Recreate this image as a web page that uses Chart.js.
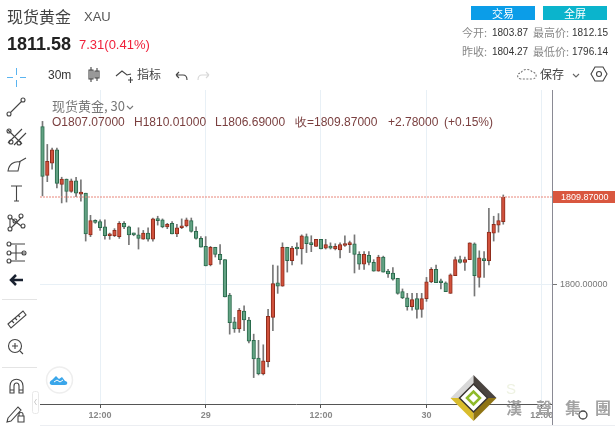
<!DOCTYPE html>
<html>
<head>
<meta charset="utf-8">
<script src="https://cdn.jsdelivr.net/npm/chart.js@4"></script>
<style>
html,body{margin:0;padding:0;background:#fff;overflow:hidden}
body{width:615px;height:426px;position:relative;font-family:"Noto Sans CJK SC","Liberation Sans",sans-serif;color:#444}
#c{position:absolute;left:0;top:0}
.t{position:absolute;white-space:nowrap;line-height:1}
.num{font-family:"Liberation Sans",sans-serif}
.btn{position:absolute;top:6px;width:64px;height:14px;line-height:14px;text-align:center;color:#fff;font-size:11px}
.ohlc{font-family:"Liberation Sans",sans-serif;font-size:12px;color:#7a3f3f;top:116px}
.stat{font-size:11px;color:#888}
.statn{font-family:"Liberation Sans",sans-serif;font-size:10px;color:#333}
.wm{top:399px;font-size:16px;font-weight:bold;color:#a2a2a2;font-family:"Noto Sans CJK TC"}
svg{position:absolute;overflow:visible}
.ic{fill:none;stroke:#444;stroke-width:1.1}
</style>
</head>
<body>
<canvas id="c" width="615" height="426"></canvas>

<div class="t" style="left:7px;top:8px;font-size:16px;color:#444">现货黄金</div>
<div class="t num" style="left:84px;top:10px;font-size:13px;color:#555">XAU</div>
<div class="t num" style="left:7px;top:35px;font-size:18px;font-weight:bold;color:#222">1811.58</div>
<div class="t num" style="left:79px;top:38px;font-size:13px;color:#f0203a">7.31(0.41%)</div>

<div class="btn" style="left:471px;background:#0b9de8">交易</div>
<div class="btn" style="left:543px;background:#0bb4cc">全屏</div>
<div class="t stat" style="left:462px;top:27px">今开:</div>
<div class="t statn" style="left:492px;top:28px">1803.87</div>
<div class="t stat" style="left:533px;top:27px">最高价:</div>
<div class="t statn" style="left:572px;top:28px">1812.15</div>
<div class="t stat" style="left:462px;top:46px">昨收:</div>
<div class="t statn" style="left:492px;top:47px">1804.27</div>
<div class="t stat" style="left:533px;top:46px">最低价:</div>
<div class="t statn" style="left:572px;top:47px">1796.14</div>

<div class="t num" style="left:48px;top:69px;font-size:12px;color:#333">30m</div>
<div class="t" style="left:137px;top:68px;font-size:12px;color:#444">指标</div>
<div class="t" style="left:540px;top:68px;font-size:12px;color:#444">保存</div>

<div class="t" style="left:52px;top:99px;font-size:13px;color:#777">现货黄金, 30</div>
<div class="t ohlc" style="left:52px">O1807.07000</div>
<div class="t ohlc" style="left:134px">H1810.01000</div>
<div class="t ohlc" style="left:215px">L1806.69000</div>
<div class="t ohlc" style="left:295px">收=1809.87000</div>
<div class="t ohlc" style="left:388px">+2.78000</div>
<div class="t ohlc" style="left:444px">(+0.15%)</div>

<svg width="615" height="426" style="left:0;top:0">
  <!-- toolbar -->
  <g class="ic">
    <path d="M91 67v15M89 70h4v9h-4zM97 68v13M95 71h4v7h-4z"/>
    <path d="M116 76l6-5 5 4 4-1M128 80h5M130.500 77v6"/>
    <path d="M176 75h7c3 0 4 2 4 5M176 75l3-3M176 75l3 3"/>
    <path d="M209 75h-7c-3 0-4 2-4 5M209 75l-3-3M209 75l-3 3" style="stroke:#d8d8d8"/>
    <path d="M127 106l3 3 3-3" style="stroke:#777"/>
    <path d="M521 79c-4 0-5-6 0-6 1-4 9-5 11-1 5 0 6 7 0 7z" stroke-dasharray="2 1.500" style="stroke:#777"/>
    <path d="M573 74l3 3 3-3" style="stroke:#666"/>
    <path d="M595 67h8l4 7-4 7h-8l-4-7z"/><circle cx="599" cy="74" r="2.500"/>
  </g>
  <!-- left tools -->
  <path d="M16.500 68v7M16.500 80v7M7 77.500h6M20 77.500h6" style="stroke:#5ab4f0;fill:none"/>
  <g class="ic">
    <circle cx="9" cy="114" r="2"/><circle cx="23" cy="100" r="2"/><path d="M10.500 112.500l11-11"/>
    <path d="M8 143l14-14M14 145l12-12M8 130l14 14"/><circle cx="9" cy="131" r="2"/><circle cx="11" cy="142" r="2"/><circle cx="19" cy="143" r="2"/>
    <path d="M8 171c1-7 6-10 12-9l-2 9zM19 162l7-4"/>
    <path d="M11 186h11M16.500 186v15M14 201h5"/>
    <circle cx="10" cy="217" r="2"/><circle cx="21" cy="216" r="2"/><circle cx="15" cy="221" r="2"/><circle cx="10" cy="229" r="2"/><circle cx="23" cy="226" r="2"/>
    <path d="M10 219v8M11 218l10 8M21 218l-10 10"/>
    <path d="M10 244h15M10 253h15M10 261h15M16 245v15"/><circle cx="9" cy="244" r="2"/><circle cx="9" cy="253" r="2"/><circle cx="9" cy="261" r="2"/><circle cx="24" cy="253" r="2"/>
    <path d="M8 324l15-13 3 4-15 13zM12 321l2 2M15 318l2 2M18 315l2 2"/>
    <circle cx="15" cy="346" r="6.500"/><path d="M12 346h6M15 343v6M20 351l3 3"/>
    <path d="M10 393v-7c0-9 13-9 13 0v7h-4v-7c0-4-5-4-5 0v7zM10 390h4M19 390h4"/>
    <path d="M8 418l10-11 3 3-10 11-4 1zM18 416h6v6h-6zM19 416v-2c0-2 4-2 4 0v2"/>
  </g>
  <path d="M23 280H12M16 275l-5 5 5 5" style="fill:none;stroke:#1a2230;stroke-width:2.500"/>
  <path d="M2 299.500h35M2 367.500h35" style="stroke:#e4e4e4"/>
  <rect x="32.500" y="391.500" width="6" height="22" rx="2" style="fill:#fff;stroke:#e8e8e8"/>
  <path d="M36.500 399l-2 3 2 3" style="fill:none;stroke:#ccc"/>
  <!-- cloud badge -->
  <circle cx="59.500" cy="380" r="13" style="fill:#fff;stroke:#eee;stroke-width:1.500"/>
  <path d="M52 385c-3 0-3-4 0-5l4-4 3 3 3-2 3 4c3 0 3 4 0 4z" style="fill:#3aa6ea"/>
  <path d="M54 382l3-2 3 2 3-2" style="fill:none;stroke:#fff"/>
  <!-- axis runs on below the plot -->
  <path d="M552.500 404v22" style="stroke:#8a8a94"/>
  <path d="M40 425.500h575" style="stroke:#eceef2"/>
  <!-- watermark -->
  <path d="M473.500 375l-23 23h23z" style="fill:#d8d8d8"/>
  <path d="M473.500 375l23 23h-23z" style="fill:#4a4440"/>
  <path d="M450.500 398l23 23v-23z" style="fill:#d9bc2c"/>
  <path d="M496.500 398l-23 23v-23z" style="fill:#8f7414"/>
  <path d="M473.500 384l14 14-14 14-14-14z" style="fill:#fff;stroke:#3a3532;stroke-width:1.500"/>
  <path d="M467 398l6.500-6.500 6.500 6.500-6.500 6.500z" style="fill:none;stroke:#8fba2a;stroke-width:2.500"/>
  <circle cx="583" cy="415" r="4" style="fill:#fff;stroke:#444;stroke-width:1.300"/>
</svg>
<div class="t num" style="left:506px;top:381px;font-size:15px;color:#eef2e2">S</div>
<div class="t wm" style="left:506px">漢</div>
<div class="t wm" style="left:536px">聲</div>
<div class="t wm" style="left:565px">集</div>
<div class="t wm" style="left:595px">團</div>

<script>
const opens = [1817.8,1812.3,1813.7,1815.2,1811.3,1811.9,1810.5,1811.7,1810.2,1810.3,1805.6,1807.2,1807.1,1806.5,1805.5,1805.5,1805.4,1806.9,1806.5,1805.7,
  1805.6,1805.1,1805.8,1805.1,1807.3,1807.3,1806.5,1806.9,1805.7,1806.4,1806.6,1807.2,1806.0,1805.2,1804.3,1802.2,1804.2,1803.4,1802.8,1798.8,
  1795.8,1795.0,1797.0,1796.0,1793.7,1791.7,1789.9,1791.3,1796.3,1800.2,1799.8,1804.2,1802.7,1804.1,1804.0,1805.4,1804.7,1804.3,1805.1,1804.1,
  1804.3,1804.0,1803.9,1804.4,1804.5,1804.6,1803.4,1802.3,1803.3,1802.5,1801.5,1803.1,1801.5,1801.3,1800.7,1799.2,1798.5,1797.5,1798.4,1797.2,
  1798.4,1800.3,1801.7,1800.3,1800.2,1799.0,1801.0,1802.8,1802.5,1802.8,1804.6,1800.8,1802.9,1802.7,1805.8,1806.7,1807.1];
const highs = [1818.4,1815.8,1815.4,1815.4,1812.1,1811.9,1811.9,1812.1,1811.8,1810.3,1807.8,1807.3,1807.3,1807.3,1805.8,1806.3,1807.1,1807.1,1806.6,1805.8,
  1806.4,1806.1,1806.4,1807.5,1807.7,1807.4,1806.9,1807.1,1806.8,1807.4,1807.5,1807.5,1806.5,1805.4,1805.4,1804.3,1804.2,1804.5,1802.8,1799.0,
  1796.3,1797.3,1797.6,1796.3,1794.4,1793.7,1793.2,1797.2,1802.2,1802.1,1804.7,1804.2,1804.3,1804.7,1805.6,1805.7,1805.5,1805.1,1805.1,1805.1,
  1804.7,1804.6,1804.7,1805.5,1804.9,1805.6,1803.7,1803.7,1803.7,1802.8,1803.3,1803.2,1801.7,1801.9,1800.7,1799.5,1799.0,1799.0,1799.0,1799.0,
  1800.8,1801.9,1802.2,1800.6,1800.3,1801.2,1803.1,1803.2,1803.1,1804.7,1804.7,1803.8,1803.7,1808.6,1807.7,1808.0,1810.1];
const lows = [1810.0,1811.6,1813.0,1810.9,1809.2,1809.3,1810.4,1809.9,1809.4,1804.9,1805.4,1806.9,1806.1,1805.1,1805.1,1805.4,1805.2,1806.3,1804.5,1805.5,
  1804.0,1805.1,1804.9,1804.9,1806.7,1806.4,1806.3,1805.7,1805.4,1806.3,1806.5,1805.9,1805.1,1804.2,1802.1,1802.1,1803.1,1802.3,1798.6,1794.4,
  1794.6,1794.6,1794.8,1793.4,1789.5,1789.8,1789.8,1790.7,1794.8,1799.0,1799.8,1801.4,1802.2,1803.3,1802.3,1803.6,1803.7,1804.3,1804.0,1804.0,
  1804.0,1803.9,1803.0,1804.3,1803.6,1801.3,1801.7,1801.7,1802.2,1801.5,1801.5,1801.4,1800.8,1800.5,1798.9,1798.4,1797.1,1797.1,1796.2,1796.3,
  1798.1,1800.2,1800.2,1799.5,1799.2,1799.0,1801.0,1802.4,1801.6,1802.8,1798.7,1799.7,1800.8,1802.2,1804.9,1805.9,1806.8];
const closes = [1812.2,1813.9,1815.2,1811.4,1811.9,1810.5,1811.7,1810.3,1810.3,1805.7,1807.2,1807.0,1806.4,1805.5,1805.6,1806.1,1806.9,1806.5,1805.6,1805.6,
  1805.2,1805.8,1805.1,1807.4,1807.2,1806.5,1806.8,1805.7,1806.4,1806.6,1807.3,1806.0,1805.2,1804.2,1802.1,1804.2,1803.4,1802.8,1798.6,1795.7,
  1795.0,1797.1,1796.0,1793.6,1791.6,1789.9,1791.4,1796.4,1800.1,1799.8,1804.2,1802.7,1804.1,1804.0,1805.5,1804.6,1804.5,1805.1,1804.0,1804.5,
  1804.1,1804.3,1804.5,1804.5,1804.6,1803.4,1802.3,1803.4,1802.5,1801.5,1803.1,1801.4,1801.2,1800.6,1799.0,1798.5,1797.5,1798.3,1797.2,1798.4,
  1800.3,1801.7,1800.2,1800.2,1799.2,1801.1,1802.8,1802.5,1802.8,1804.7,1801.0,1803.0,1802.7,1805.9,1806.8,1807.2,1809.87];
const lastClose = 1809.87;
const priceTicks = [1800];
const timeTicks = [12, 34, 58, 80, 104];
const timeLabels = ['12:00', '29', '12:00', '30', '12:00'];

const UP = '#d0513c', UP_EDGE = '#8e2c1c', DOWN = '#62a283', DOWN_EDGE = '#2a6a4c';
const isUp = opens.map((o, i) => closes[i] >= o);
const xMin = -0.52, xMax = 106.15;

// last price tag on the right axis
const priceTag = {
  id: 'priceTag',
  afterDraw(chart) {
    const ctx = chart.ctx, y = chart.scales.y.getPixelForValue(lastClose);
    ctx.save();
    ctx.fillStyle = '#d9573f';
    ctx.fillRect(553, y - 6, 62, 12);
    ctx.fillStyle = '#fff';
    ctx.font = '9px "Liberation Sans"';
    ctx.textBaseline = 'middle';
    ctx.fillText(lastClose.toFixed(5), 561, y + 0.5);
    ctx.restore();
  }
};

new Chart(document.getElementById('c'), {
  data: {
    datasets: [
      {
        type: 'line', order: 0,
        data: [{x: xMin, y: lastClose}, {x: xMax, y: lastClose}],
        borderColor: '#e8867a', borderWidth: 1, borderDash: [2, 1], pointRadius: 0
      },
      {
        type: 'bar', order: 1, grouped: false,
        data: opens.map((o, i) => ({x: i, y: [o, closes[i]]})),
        backgroundColor: isUp.map(u => u ? UP : DOWN),
        borderColor: isUp.map(u => u ? UP_EDGE : DOWN_EDGE),
        borderWidth: 1, barThickness: 3.6, minBarLength: 2, borderSkipped: false
      },
      {
        type: 'bar', order: 2, grouped: false,
        data: highs.map((h, i) => ({x: i, y: [lows[i], h]})),
        backgroundColor: '#777', barThickness: 1
      }
    ]
  },
  options: {
    responsive: false,
    animation: false,
    events: [],
    layout: {padding: {left: 40, top: 90, right: 0, bottom: 0}},
    plugins: {legend: {display: false}, tooltip: {enabled: false}},
    scales: {
      x: {
        type: 'linear', offset: false, min: xMin, max: xMax,
        afterBuildTicks: a => { a.ticks = timeTicks.map(value => ({value})); },
        afterFit: a => { a.height = 22; },
        grid: {offset: false, color: '#e8f0f6', tickColor: '#555', tickLength: 4},
        border: {color: '#555'},
        ticks: {
          autoSkip: false, maxRotation: 0, padding: 2, color: '#888',
          font: {family: 'Liberation Sans', size: 9, weight: 'bold'},
          callback: v => timeLabels[timeTicks.indexOf(v)]
        }
      },
      y: {
        position: 'right', min: 1786.52, max: 1821.94,
        afterBuildTicks: a => { a.ticks = priceTicks.map(value => ({value})); },
        afterFit: a => { a.width = 63; },
        grid: {color: '#e8f0f6', tickColor: '#777', tickLength: 5},
        border: {color: '#8a8a94'},
        ticks: {
          padding: 3, color: '#777',
          font: {family: 'Liberation Sans', size: 9},
          callback: v => v.toFixed(5)
        }
      }
    }
  },
  plugins: [priceTag]
});
</script>
</body>
</html>
